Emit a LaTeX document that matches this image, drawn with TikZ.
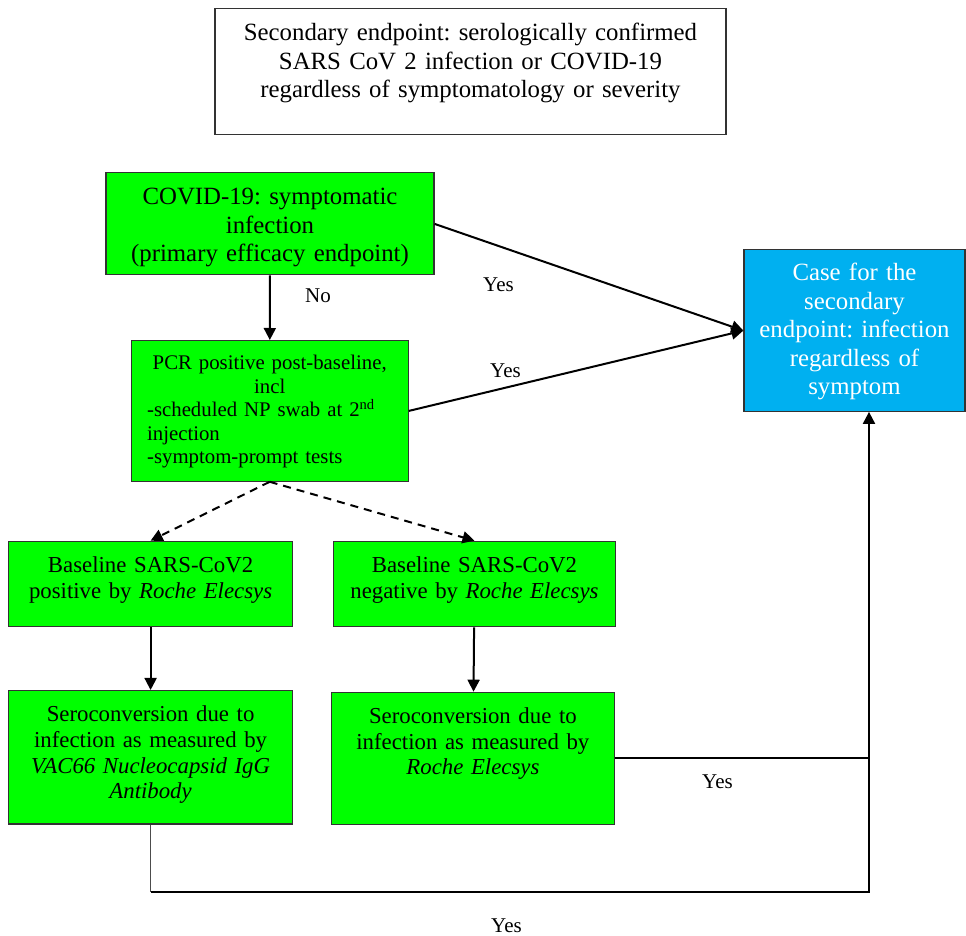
\documentclass[tikz,border=0pt]{standalone}
\usepackage{fontspec}
\setmainfont{Liberation Serif}
\frenchspacing
\usetikzlibrary{shapes,arrows.meta}
\definecolor{boxgreen}{RGB}{0,255,0}
\definecolor{caseblue}{RGB}{0,176,240}

\begin{document}
\begin{tikzpicture}[x=0.5pt, y=-0.5pt]
		\tikzstyle {box} = [draw=black!80, line width=0.6pt, fill=boxgreen, anchor=north, inner xsep=2pt, inner ysep=0pt]
		\tikzstyle {cbox} = [box, align=center]
		\tikzstyle {big} = [font=\fontsize{12.4}{14.2}\selectfont]
		\tikzstyle {small} = [font=\fontsize{11.4}{12.9}\selectfont]
		\tikzstyle {arr} = [line width=1pt, -{Triangle[length=6pt,width=6pt]}]
		\tikzstyle {dasharr} = [arr, dash pattern=on 4pt off 3pt]
		\tikzstyle {lbl} = [font=\fontsize{10.5}{12}\selectfont, anchor=base, inner sep=0pt]

		\useasboundingbox (0,0) rectangle (966,936);

		% boxes
		\node[cbox, big, fill=white, text width=251.5pt, text height=16pt, text depth=46.9pt] (second) at (470.5, 8.3)
			{Secondary endpoint: serologically confirmed\\ SARS CoV 2 infection or COVID-19\\ regardless of symptomatology or severity};
		\node[cbox, big, text width=160pt, text height=16pt, text depth=35pt] (covid) at (270, 172.3)
			{COVID-19: symptomatic\\ infection\\ (primary efficacy endpoint)};
		\node[box, inner xsep=8pt, text width=122.6pt, text height=14.5pt, text depth=55.8pt, font=\fontsize{10.4}{11.8}\selectfont] (pcr) at (269.7, 340)
			{\centering PCR positive post-baseline,\\ incl\par
			\raggedright -scheduled NP swab at 2\textsuperscript{nd}\\ injection\\ -symptom-prompt tests};
		\node[cbox, big, fill=caseblue, text=white, text width=106.5pt, text height=15.5pt, text depth=65.2pt] (case) at (854.5, 249.3)
			{Case for the\\ secondary\\ endpoint: infection\\ regardless of\\ symptom};

		\node[cbox, small, text width=137.9pt, text height=15.5pt, text depth=27.2pt] (basepos) at (150.6, 540.7)
			{Baseline SARS-CoV2\\ positive by \textit{Roche Elecsys}};
		\node[cbox, small, text width=137.3pt, text height=15.5pt, text depth=27.2pt] (baseneg) at (474.5, 540.7)
			{Baseline SARS-CoV2\\ negative by \textit{Roche Elecsys}};
		\node[cbox, small, text width=137.9pt, text height=15.5pt, text depth=51.2pt] (seropos) at (150.6, 690)
			{Seroconversion due to\\ infection as measured by\\ \textit{VAC66 Nucleocapsid IgG}\\ \textit{Antibody}};
		\node[cbox, small, text width=137.7pt, text height=15.5pt, text depth=50.7pt] (seroneg) at (472.9, 691.7)
			{Seroconversion due to\\ infection as measured by\\ \textit{Roche Elecsys}};

		\coordinate (loop) at (869, 892);

		% connectors
		\draw[arr] (covid) -- (pcr);
		\draw[arr] (covid.east) -- (case.west);
		\draw[arr] (pcr.east) -- (case.west);
		\draw[dasharr] (pcr.south) -- (basepos.north);
		\draw[dasharr] (pcr.south) -- (baseneg.north);
		\draw[arr] (basepos) -- (seropos);
		\draw[arr] (baseneg) -- (seroneg);
		\draw[arr] (seroneg.east) -| (case.south -| loop);
		\draw[line width=0.4pt, black!70] (seropos.south) -- (seropos.south |- loop);
		\draw[line width=0.9pt] (seropos.south |- loop) -- (loop) -- (loop |- seroneg.east);

		% labels
		\node[lbl] (no) at (318, 303) {No};
		\node[lbl] (yes1) at (498.5, 292) {Yes};
		\node[lbl] (yes2) at (505.5, 378) {Yes};
		\node[lbl] (yes3) at (717.5, 789) {Yes};
		\node[lbl] (yes4) at (506.5, 933) {Yes};
	\end{tikzpicture}
\end{document}
